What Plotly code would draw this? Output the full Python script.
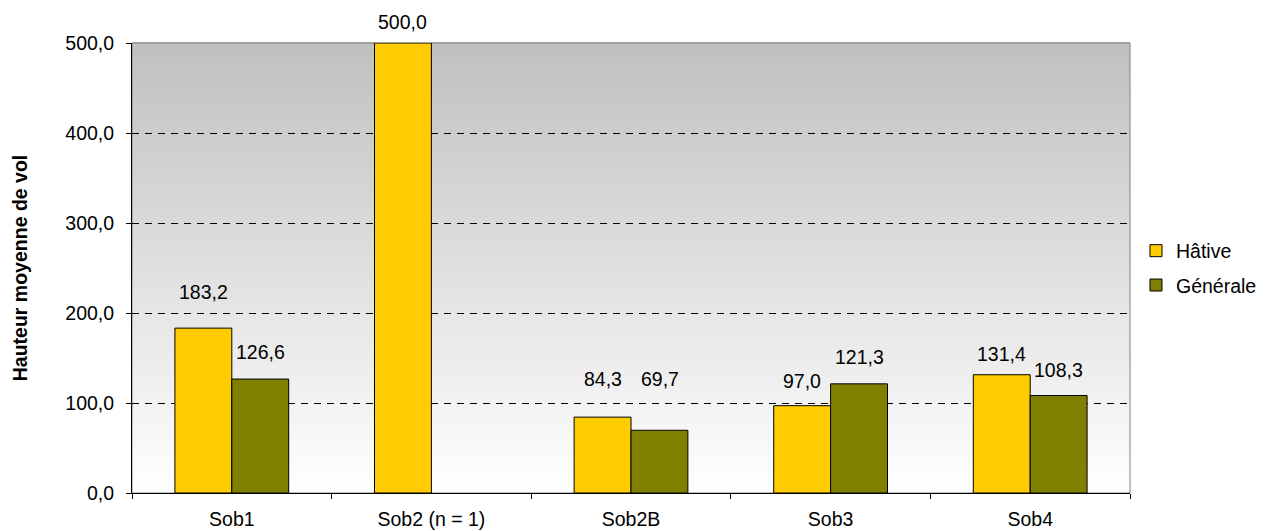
import plotly.graph_objects as go

categories = ["Sob1", "Sob2 (n = 1)", "Sob2B", "Sob3", "Sob4"]
hative = [183.2, 500.0, 84.3, 97.0, 131.4]
generale = [126.6, None, 69.7, 121.3, 108.3]
series_names = ["Hâtive", "Générale"]
y_ticks = [0, 100, 200, 300, 400, 500]

# label offsets above bar tops (pixels), as placed in the original chart
hative_label_shift = [36, 21, 38, 25, 21]
generale_label_shift = [27, 0, 51, 27, 26]

FONT = "Liberation Sans, Arial, sans-serif"
FS = 19.5
COL_H = "#FFCC00"
COL_G = "#808000"

fig = go.Figure()
fig.add_trace(go.Bar(x=categories, y=hative, name=series_names[0], legendgroup="h",
                     marker=dict(color=COL_H, line=dict(color="black", width=1))))
fig.add_trace(go.Bar(x=categories, y=generale, name=series_names[1], legendgroup="g",
                     marker=dict(color=COL_G, line=dict(color="black", width=1))))

annotations = []
for vals, shifts, xs in ((hative, hative_label_shift, -28.5),
                         (generale, generale_label_shift, 28.5)):
    for c, v, s in zip(categories, vals, shifts):
        if v is None:
            continue
        annotations.append(dict(x=c, y=v, xref="x", yref="y", xshift=xs, yshift=s,
                                yanchor="middle",
                                text=f"{v:.1f}".replace(".", ","), showarrow=False,
                                font=dict(family=FONT, size=FS, color="black")))

# gradient background (grey at top to white at bottom)
shapes = []
n = 150
for i in range(n):
    t = i / n
    g = round(255 - (255 - 192) * (t + 0.5 / n))
    shapes.append(dict(type="rect", xref="paper", yref="paper", x0=0, x1=1,
                       y0=t, y1=(i + 1) / n + 0.002, layer="below",
                       line=dict(width=0), fillcolor=f"rgb({g},{g},{g})"))
shapes.append(dict(type="rect", xref="paper", yref="paper", x0=0, x1=1, y0=0, y1=1,
                   layer="below", line=dict(color="#808080", width=1),
                   fillcolor="rgba(0,0,0,0)"))

fig.update_layout(
    width=1267, height=531,
    margin=dict(l=132, r=137, t=43, b=38, autoexpand=False),
    barmode="group", bargap=0.43, bargroupgap=0,
    separators=", ",
    paper_bgcolor="white", plot_bgcolor="rgba(0,0,0,0)",
    font=dict(family=FONT, size=FS, color="black"),
    showlegend=True,
    legend=dict(x=1.006, y=0.5, xanchor="left", yanchor="middle",
                font=dict(family=FONT, size=FS), tracegroupgap=6,
                bgcolor="rgba(0,0,0,0)"),
    annotations=annotations,
    shapes=shapes,
    xaxis=dict(showline=True, linecolor="black", linewidth=1, ticks="outside",
               tickson="boundaries", ticklen=5, tickcolor="black", showgrid=False,
               automargin=False, ticklabelstandoff=9,
               tickfont=dict(family=FONT, size=FS)),
    yaxis=dict(range=[0, 500], tickvals=y_ticks, tickformat=".1f",
               showline=True, linecolor="black", linewidth=1, ticks="outside",
               ticklen=5, tickcolor="black", showgrid=True, gridcolor="black",
               gridwidth=1, griddash="7px,6px", zeroline=False, automargin=False,
               ticklabelstandoff=8,
               tickfont=dict(family=FONT, size=FS),
               title=dict(text="<b>Hauteur moyenne de vol</b>", standoff=32,
                          font=dict(family=FONT, size=FS))),
)

fig.write_html("out.html", config={"displayModeBar": False},
               post_script="document.body.style.margin='0';")
